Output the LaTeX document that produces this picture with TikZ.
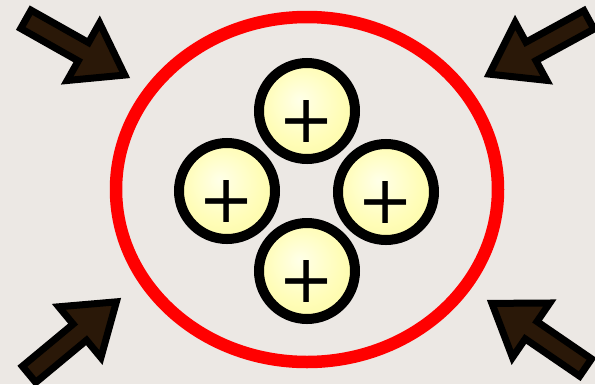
\documentclass[tikz,border=0pt]{standalone}
\usepackage{fontspec}
\newfontfamily\plusfont{DejaVu Sans}
\usetikzlibrary{shapes.geometric}

\definecolor{backdrop}{RGB}{236,232,228}
\definecolor{ringred}{RGB}{255,0,0}
\definecolor{arrowbrown}{RGB}{42,24,8}
\definecolor{corelight}{RGB}{255,255,232}
\definecolor{coremid}{RGB}{255,253,184}
\definecolor{corerim}{RGB}{250,246,148}
\pgfdeclareradialshading{coreglow}{\pgfpoint{-4bp}{6bp}}{color(0bp)=(corelight); color(20bp)=(coremid); color(42bp)=(corerim); color(50bp)=(corerim)}

\begin{document}
\begin{tikzpicture}[
    x=1pt, y=-1pt,
    shell/.style={ellipse, draw=ringred, line width=12.5pt, minimum width=382pt, minimum height=345pt, inner sep=0pt},
    charge/.style={circle, draw=black, line width=10pt, shade, shading=coreglow, minimum size=96pt, inner sep=0pt},
    sign/.style={font=\plusfont\fontsize{67}{67}\selectfont, inner sep=0pt},
    pusharrow/.pic={
        \draw[line width=7pt, line join=miter, fill=arrowbrown]
            (-6,0) -- (-53.5,-33) -- (-53.5,-10.5) -- (-119.5,-10.5)
            -- (-119.5,10.5) -- (-53.5,10.5) -- (-53.5,33) -- cycle;
    }
]
\useasboundingbox (0,0) rectangle (595,384);
\fill[backdrop] (0,0) rectangle (595,384);

% outer ring
\node[shell] (ring) at (307,189.5) {};

% four charges
\node[charge] (top) at (307,111) {};
\node[charge] (left) at (227,191) {};
\node[charge] (right) at (386,192) {};
\node[charge] (bottom) at (307,271) {};
\node[sign] (topplus) at ([yshift=-10pt]top.center) {+};
\node[sign] (leftplus) at ([yshift=-10pt]left.center) {+};
\node[sign] (rightplus) at ([yshift=-10pt]right.center) {+};
\node[sign] (bottomplus) at ([yshift=-10pt]bottom.center) {+};

% pressing arrows
\pic[rotate=-29.4] at (130,78) {pusharrow};
\pic[rotate=208.6] at (484,77) {pusharrow};
\pic[rotate=39.7] at (121,298) {pusharrow};
\pic[rotate=145.6] at (487,300) {pusharrow};
\end{tikzpicture}
\end{document}
